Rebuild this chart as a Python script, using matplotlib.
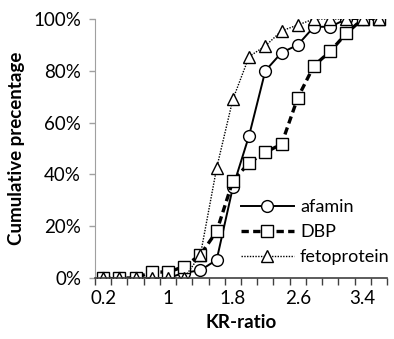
import matplotlib
matplotlib.use('Agg')
import matplotlib.pyplot as plt
import numpy as np

# KR-ratio categories and cumulative percentages
kr_ratio = [0.2, 0.4, 0.6, 0.8, 1.0, 1.2, 1.4, 1.6, 1.8, 2.0,
            2.2, 2.4, 2.6, 2.8, 3.0, 3.2, 3.4, 3.6]
afamin = [0, 0, 0, 0, 0, 2, 3, 7, 35, 55, 80, 87, 90, 97, 97, 100, 100, 100]
dbp = [0, 0, 0, 2.3, 2.3, 4.4, 9, 18, 37.5, 44.5, 48.5, 51.7, 69.6, 82, 87.5, 94.5, 100, 100]
fetoprotein = [0, 0, 0, 0, 0, 0, 9, 42.5, 69, 85.5, 89.6, 95.4, 97.7, 100, 100, 100, 100, 100]
tick_labels = ['0.2', '1', '1.8', '2.6', '3.4']

plt.rcParams['font.family'] = ['Lato', 'DejaVu Sans']
fs = 13.5

fig = plt.figure(figsize=(3.94, 3.39), dpi=100)
ax = fig.add_axes([95/394, 61/339, 292/394, 259/339])

x = np.arange(len(kr_ratio))
mk = dict(markerfacecolor='white', markeredgecolor='black', markeredgewidth=1.0)
ax.plot(x, afamin, color='black', lw=1.4, ls='-', marker='o', markersize=8.5, label='afamin', **mk)
ax.plot(x, dbp, color='black', lw=2.4, ls=(0, (2.2, 1.3)), marker='s', markersize=8, label='DBP', **mk)
ax.plot(x, fetoprotein, color='black', lw=1.0, ls=(0, (1, 1)), marker='^', markersize=8.5, label='fetoprotein', **mk)

ax.set_xlim(-0.5, len(kr_ratio) - 0.5)
ax.set_ylim(0, 100)

# category axis: labels every 4th, tick marks between categories
ax.set_xticks([kr_ratio.index(float(t)) for t in tick_labels])
ax.set_xticklabels(tick_labels, fontsize=fs)
ax.set_xticks(np.arange(-0.5, len(kr_ratio)), minor=True)
ax.tick_params(axis='x', which='major', length=0, pad=9)
ax.tick_params(axis='x', which='minor', length=5, width=1, color='#404040', direction='out')

ax.set_yticks([0, 20, 40, 60, 80, 100])
ax.set_yticklabels(['0%', '20%', '40%', '60%', '80%', '100%'], fontsize=fs)
ax.tick_params(axis='y', length=4, color='#a0a0a0', width=1, pad=6)

for s in ['top', 'right']:
    ax.spines[s].set_visible(False)
ax.spines['left'].set_color('#a0a0a0')
ax.spines['bottom'].set_color('#404040')
ax.spines['bottom'].set_linewidth(1.2)

ax.set_xlabel('KR-ratio', fontsize=fs, fontweight='bold', labelpad=5)
ax.set_ylabel('Cumulative precentage', fontsize=fs, fontweight='bold', labelpad=6)

ax.legend(loc='center left', bbox_to_anchor=(225/394, (339 - 232)/339), bbox_transform=fig.transFigure,
          frameon=False, fontsize=13, handlelength=2.9, handletextpad=0.35, labelspacing=0.5)

# title cut off at the top of the image
fig.text(163/394, 1.0 + 3/339, 'percentage', fontsize=14, fontweight='bold', va='baseline', ha='left')

fig.savefig('out.png', dpi=100)
